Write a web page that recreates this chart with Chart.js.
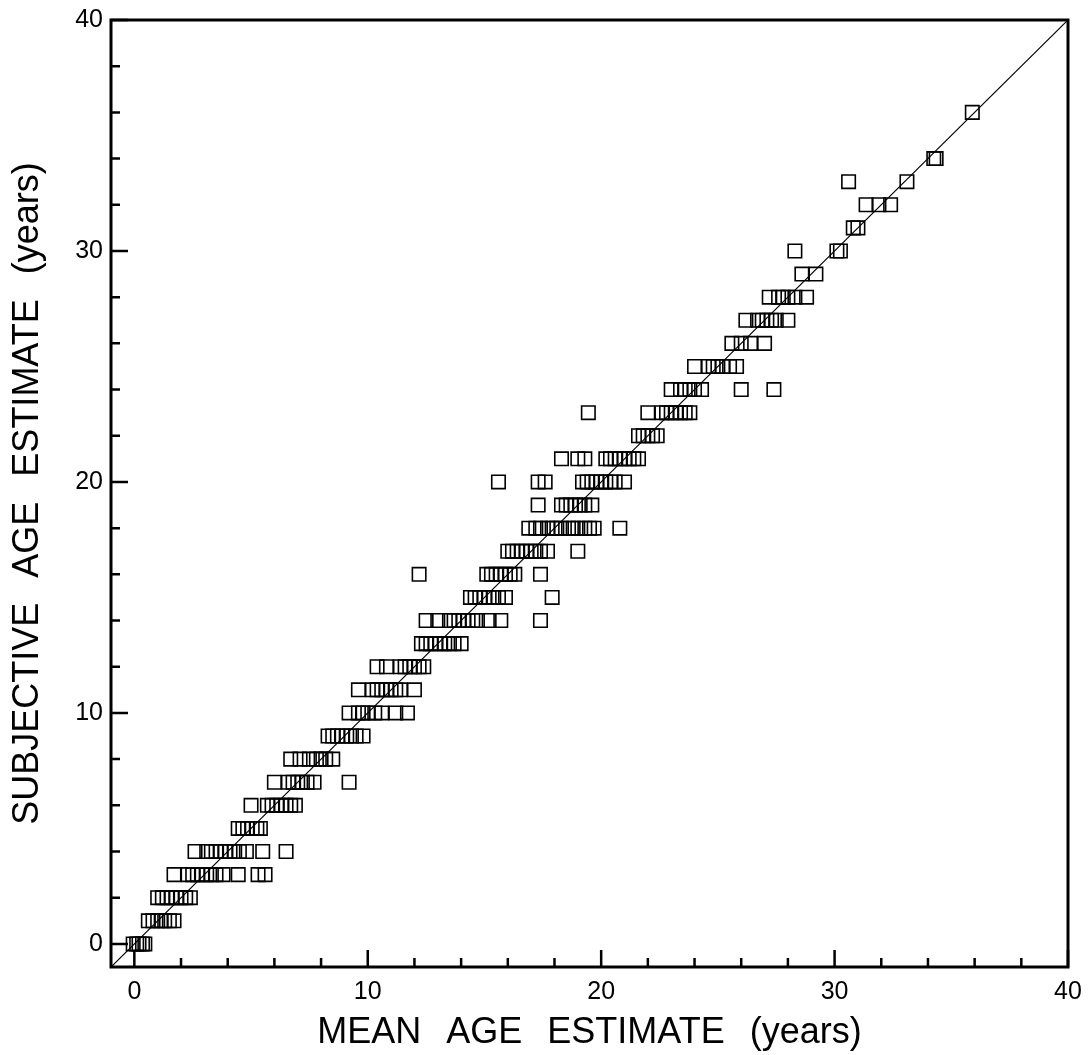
<!DOCTYPE html>
<html>
<head>
<meta charset="utf-8">
<title>Subjective vs mean age estimate</title>
<script src="https://cdn.jsdelivr.net/npm/chart.js@4.4.1/dist/chart.umd.min.js"></script>
<style>
  html, body { margin: 0; padding: 0; background: #fff; }
  #wrap { position: relative; width: 1088px; height: 1055px; }
</style>
</head>
<body>
<div id="wrap"><canvas id="ageChart"></canvas></div>
<script>
(() => {
  // ---- DATA ----
  // subjective estimate (whole years) and the mean estimates recorded at each level
  const subjectiveAge = [0, 1, 2, 3, 4, 5, 6, 7, 8, 9, 10, 11, 12, 13, 14, 15, 16, 17, 18,
    19, 20, 21, 22, 23, 24, 25, 26, 27, 28, 29, 30, 31, 32, 33, 34, 36];
  const meanAgeAtLevel = [
    [-0.05, 0.1, 0.2, 0.35, 0.45],
    [0.6, 0.8, 1.0, 1.15, 1.3, 1.5, 1.7],
    [1.0, 1.2, 1.4, 1.6, 1.8, 2.0, 2.2, 2.4],
    [1.7, 2.3, 2.5, 2.7, 2.9, 3.1, 3.3, 3.5, 3.8, 4.45, 5.3, 5.6],
    [2.6, 3.1, 3.3, 3.5, 3.7, 3.9, 4.1, 4.3, 4.5, 4.8, 5.5, 6.5],
    [4.45, 4.65, 4.85, 5.05, 5.25, 5.4],
    [5.0, 5.7, 5.9, 6.1, 6.3, 6.5, 6.7, 6.9],
    [6.0, 6.6, 6.8, 7.0, 7.2, 7.4, 7.7, 9.2],
    [6.7, 7.1, 7.5, 7.8, 8.0, 8.2, 8.5],
    [8.3, 8.5, 8.7, 8.9, 9.1, 9.3, 9.5, 9.8],
    [9.2, 9.6, 9.8, 10.0, 10.3, 10.6, 11.2, 11.7],
    [9.6, 10.2, 10.4, 10.6, 10.8, 11.0, 11.2, 11.4, 12.0],
    [10.4, 10.8, 11.4, 11.6, 11.8, 12.0, 12.2, 12.4],
    [12.3, 12.5, 12.7, 12.9, 13.1, 13.3, 13.5, 13.7, 14.0],
    [12.5, 13.0, 13.5, 13.7, 13.9, 14.1, 14.3, 14.5, 14.7, 15.2, 15.7, 17.4],
    [14.4, 14.6, 14.8, 15.0, 15.2, 15.4, 15.6, 15.9, 17.9],
    [12.2, 15.1, 15.3, 15.5, 15.7, 15.9, 16.1, 16.3, 17.4],
    [16.0, 16.2, 16.4, 16.6, 16.8, 17.0, 17.2, 17.4, 17.7, 19.0],
    [16.9, 17.2, 17.4, 17.7, 17.9, 18.1, 18.3, 18.6, 18.8, 19.0, 19.3, 19.5, 19.7, 20.8],
    [17.3, 18.3, 18.5, 18.7, 18.9, 19.1, 19.3, 19.6],
    [15.6, 17.3, 17.6, 19.2, 19.4, 19.6, 19.8, 20.0, 20.2, 20.4, 20.6, 21.0],
    [18.3, 19.0, 19.3, 20.2, 20.4, 20.6, 20.8, 21.0, 21.2, 21.4, 21.6],
    [21.6, 21.8, 22.0, 22.2, 22.4],
    [19.45, 22.0, 22.6, 22.8, 23.0, 23.2, 23.4, 23.6, 23.8],
    [23.0, 23.4, 23.6, 23.8, 24.0, 24.3, 26.0, 27.4],
    [24.0, 24.6, 24.8, 25.0, 25.2, 25.5, 25.8],
    [25.6, 26.0, 26.4, 27.0],
    [26.2, 26.7, 26.9, 27.1, 27.3, 27.5, 28.0],
    [27.2, 27.6, 27.8, 28.0, 28.3, 28.8],
    [28.6, 29.2],
    [28.3, 30.1, 30.25],
    [30.8, 31.0],
    [31.35, 31.9, 32.4],
    [30.6, 33.1],
    [34.25, 34.35],
    [35.9]
  ];

  // y = x reference line across the full axis range
  const identityLine = [-1, 40];

  const axisMin = -1;
  const axisMax = 40;
  const labelTicks = [0, 10, 20, 30, 40];
  const minorStep = 2;

  const xTitle = "MEAN AGE ESTIMATE (years)";
  const yTitle = "SUBJECTIVE AGE ESTIMATE (years)";

  // ---- HELPERS ----
  function buildPoints() {
    const pts = [];
    subjectiveAge.forEach((y, i) => {
      meanAgeAtLevel[i].forEach(x => pts.push({ x, y }));
    });
    return pts;
  }

  const FONT = "'Liberation Sans', Arial, Helvetica, sans-serif";

  // ---- PLUGIN: FRAME + INWARD TICKS ----
  const frameTicks = {
    id: "frameTicks",
    afterDatasetsDraw(chart) {
      const { ctx, chartArea, scales } = chart;
      const { left, right, top, bottom } = chartArea;

      ctx.save();
      ctx.strokeStyle = "#000";
      ctx.lineWidth = 3;
      ctx.strokeRect(left, top, right - left, bottom - top);

      ctx.lineWidth = 2.5;
      ctx.beginPath();
      for (let v = 0; v <= axisMax; v += minorStep) {
        const len = v % 10 === 0 ? 17 : 9;
        const px = scales.x.getPixelForValue(v);
        ctx.moveTo(px, bottom);
        ctx.lineTo(px, bottom - len);
        const py = scales.y.getPixelForValue(v);
        ctx.moveTo(left, py);
        ctx.lineTo(left + len, py);
      }
      ctx.stroke();
      ctx.restore();
    }
  };

  // wider gaps between words in the axis titles
  const wideWords = {
    id: "wideWords",
    beforeDraw(chart) {
      if ("wordSpacing" in chart.ctx) chart.ctx.wordSpacing = "15px";
    }
  };

  function fixedTicks(scale) {
    scale.ticks = labelTicks.map(v => ({ value: v }));
  }

  // ---- CHART ----
  const canvas = document.getElementById("ageChart");
  new Chart(canvas, {
    type: "scatter",
    data: {
      datasets: [
        {
          type: "line",
          data: identityLine.map(v => ({ x: v, y: v })),
          borderColor: "#000",
          borderWidth: 1.2,
          pointRadius: 0,
          fill: false,
          order: 2
        },
        {
          data: buildPoints(),
          pointStyle: "rect",
          pointRadius: 9.5,
          pointHoverRadius: 9.5,
          pointBorderWidth: 1.6,
          pointBorderColor: "#000",
          pointBackgroundColor: "rgba(255,255,255,0)",
          order: 1
        }
      ]
    },
    options: {
      responsive: true,
      maintainAspectRatio: false,
      animation: false,
      devicePixelRatio: 1,
      layout: { padding: { top: 20, right: 20, left: 0, bottom: 0 } },
      plugins: {
        legend: { display: false },
        tooltip: { enabled: false }
      },
      scales: {
        x: {
          type: "linear",
          min: axisMin,
          max: axisMax,
          afterBuildTicks: fixedTicks,
          afterFit: s => { s.height = 88; s.paddingLeft = 0; s.paddingRight = 0; },
          grid: { display: false, drawTicks: false },
          border: { display: false },
          ticks: {
            color: "#000",
            padding: 10,
            maxRotation: 0,
            autoSkip: false,
            font: { family: FONT, size: 25 }
          },
          title: {
            display: true,
            text: xTitle,
            color: "#000",
            padding: { top: 0, bottom: 4 },
            font: { family: FONT, size: 36, lineHeight: 1 }
          }
        },
        y: {
          type: "linear",
          min: axisMin,
          max: axisMax,
          afterBuildTicks: fixedTicks,
          afterFit: s => { s.width = 111; s.paddingTop = 0; s.paddingBottom = 0; },
          grid: { display: false, drawTicks: false },
          border: { display: false },
          ticks: {
            color: "#000",
            padding: 8,
            autoSkip: false,
            font: { family: FONT, size: 25 }
          },
          title: {
            display: true,
            text: yTitle,
            color: "#000",
            padding: { top: 10, bottom: 0 },
            font: { family: FONT, size: 36, lineHeight: 1 }
          }
        }
      }
    },
    plugins: [wideWords, frameTicks]
  });
})();
</script>
</body>
</html>
